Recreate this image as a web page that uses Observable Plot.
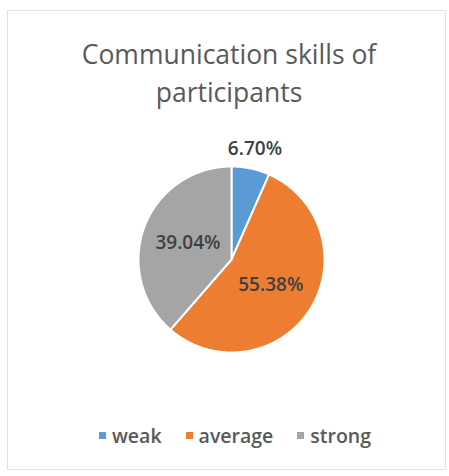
<!DOCTYPE html>
<html><head><meta charset="utf-8">
<script src="https://cdn.jsdelivr.net/npm/d3@7"></script>
<script src="https://cdn.jsdelivr.net/npm/@observablehq/plot@0.6"></script>
<style>
body{margin:0;background:#fff;font-family:"Open Sans",sans-serif;font-variant-ligatures:none;}
#wrap{position:relative;width:449px;height:476px;overflow:hidden;background:#fff;}
#frame{position:absolute;left:7px;top:10px;width:439px;height:460px;border:1px solid #e3e3e3;box-sizing:border-box;}
#title{position:absolute;left:0;width:458px;top:35px;text-align:center;font-size:26.5px;color:#595959;line-height:38px;}
#legend{position:absolute;left:0;width:470px;top:422px;display:flex;justify-content:center;gap:24px;font-size:19.5px;font-weight:600;color:#595959;}
#legend span.item{display:flex;align-items:center;gap:6px;}
#legend i{display:inline-block;width:7px;height:7px;}
#chart{position:absolute;left:0;top:0;}
</style></head>
<body>
<div id="wrap">
  <div id="frame"></div>
  <div id="title">Communication skills of<br>participants</div>
  <div id="chart"></div>
  <div id="legend"></div>
</div>
<script>
const categories = ["weak", "average", "strong"];
const values = [6.70, 55.38, 39.04];
const labels = ["6.70%", "55.38%", "39.04%"];
const colors = ["#5B9BD5", "#ED7D31", "#A5A5A5"];

const data = categories.map((c, i) => ({name: c, value: values[i], label: labels[i]}));
const arcs = d3.pie().sort(null).value(d => d.value)(data);

// polygon points for each slice (angles clockwise from 12 o'clock)
const pts = [];
arcs.forEach(a => {
  const n = Math.max(2, Math.ceil((a.endAngle - a.startAngle) / 0.01));
  pts.push({name: a.data.name, x: 0, y: 0});
  for (let k = 0; k <= n; k++) {
    const t = a.startAngle + (a.endAngle - a.startAngle) * k / n;
    pts.push({name: a.data.name, x: Math.sin(t), y: Math.cos(t)});
  }
  pts.push({name: a.data.name, x: 0, y: 0});
});

const lab = arcs.map(a => {
  const m = (a.startAngle + a.endAngle) / 2;
  const frac = (a.endAngle - a.startAngle) / (2 * Math.PI);
  const r = frac < 0.1 ? 1.22 : 0.5;
  return {label: a.data.label, x: r * Math.sin(m), y: r * Math.cos(m)};
});

const R = 93, cx = 231, cy = 259, W = 449, H = 476;
const plot = Plot.plot({
  width: W, height: H,
  marginLeft: cx - R, marginRight: W - cx - R,
  marginTop: cy - R, marginBottom: H - cy - R,
  x: {domain: [-1, 1], axis: null},
  y: {domain: [-1, 1], axis: null},
  color: {domain: categories, range: colors},
  style: {background: "transparent", overflow: "visible"},
  marks: [
    Plot.line(pts, {x: "x", y: "y", z: "name", fill: "name", stroke: "white", strokeWidth: 2, curve: "linear"}),
    Plot.text(lab, {x: "x", y: "y", text: "label", fill: "#404040", fontSize: 19, fontWeight: 600, fontFamily: "'Open Sans', sans-serif"})
  ]
});
document.getElementById("chart").appendChild(plot);

const leg = document.getElementById("legend");
categories.forEach((c, i) => {
  const s = document.createElement("span");
  s.className = "item";
  s.innerHTML = `<i style="background:${colors[i]}"></i>${c}`;
  leg.appendChild(s);
});
</script>
</body></html>
